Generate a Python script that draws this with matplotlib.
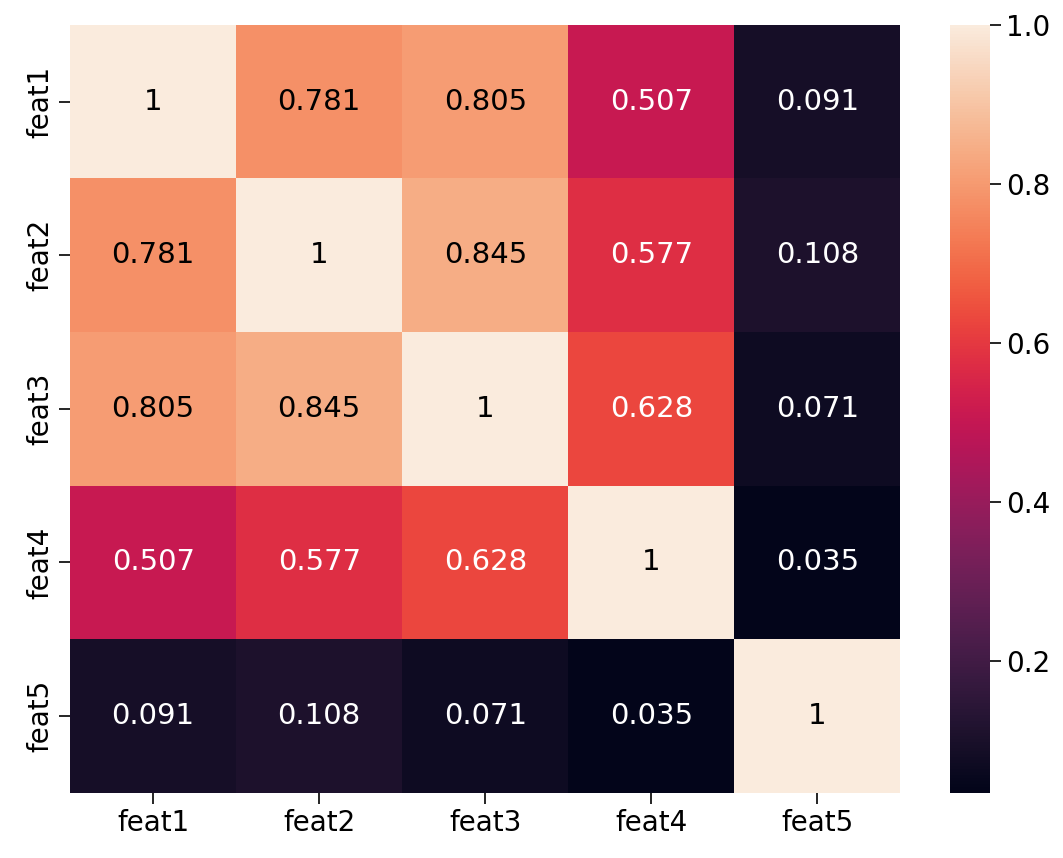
import numpy as np
import pandas as pd
import seaborn as sns
import matplotlib
matplotlib.use("Agg")
import matplotlib.pyplot as plt

features = ["feat1", "feat2", "feat3", "feat4", "feat5"]
row1 = [1.0, 0.781, 0.805, 0.507, 0.091]
row2 = [0.781, 1.0, 0.845, 0.577, 0.108]
row3 = [0.805, 0.845, 1.0, 0.628, 0.071]
row4 = [0.507, 0.577, 0.628, 1.0, 0.035]
row5 = [0.091, 0.108, 0.071, 0.035, 1.0]

corr = pd.DataFrame([row1, row2, row3, row4, row5], index=features, columns=features)

plt.rcParams['font.family'] = ['DejaVu Sans']

fig = plt.figure(figsize=(10.63, 8.58), dpi=100)
ax = fig.add_axes([0.066, 0.076, 0.781, 0.895])
cax = fig.add_axes([0.894, 0.076, 0.037, 0.895])

sns.heatmap(corr, annot=False, cmap="rocket", ax=ax, cbar_ax=cax)

# annotations: dark text on light cells, white on dark ones
for i, row in enumerate(corr.values):
    for j, v in enumerate(row):
        txt = f"{v:.3g}"
        col = "black" if v >= 0.7 else "white"
        ax.text(j + 0.5, i + 0.5, txt, ha="center", va="center",
                fontsize=21, color=col)

ax.tick_params(axis='both', labelsize=20, length=8, width=1.2)
cax.tick_params(labelsize=20, length=8, width=1.2)
cax.set_yticks([0.2, 0.4, 0.6, 0.8, 1.0])
cax.set_yticklabels(["0.2", "0.4", "0.6", "0.8", "1.0"])

fig.savefig("out.png", dpi=100)
